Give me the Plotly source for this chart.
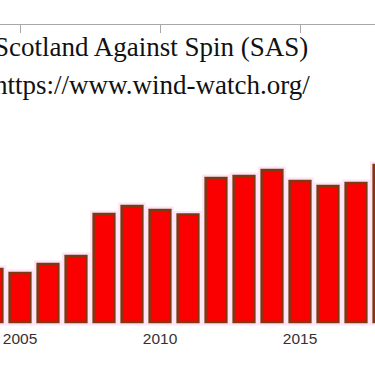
import plotly.graph_objects as go

years = [2004, 2005, 2006, 2007, 2008, 2009, 2010, 2011, 2012, 2013, 2014, 2015, 2016, 2017, 2018]
values = [53, 49, 58, 66, 108, 116, 112, 107.5, 144, 146, 152, 141, 136, 139, 157]
tick_years = [2005, 2010, 2015]
tick_labels = ["2005", "2010", "2015"]
title_lines = ["Scotland Against Spin (SAS)", "https://www.wind-watch.org/"]

W, H = 375, 366
top, bottom = 25, 327
px_per_year = 28.0
x_left = 2005 - 20 / px_per_year
x_right = x_left + W / px_per_year
y_lo, y_hi = -5, 297

fig = go.Figure()
# pink halo beneath bars
fig.add_trace(go.Bar(
    x=years, y=values, width=0.74,
    marker=dict(color="#ffe3f6", line=dict(color="#ffe3f6", width=7)),
    hoverinfo="skip", showlegend=False,
))
fig.add_trace(go.Bar(
    x=years, y=values, width=0.74,
    marker=dict(color="#fb0000", line=dict(color="#7d3a12", width=2.5)),
    showlegend=False,
))
# invisible trace to carry the top axis
fig.add_trace(go.Scatter(x=[x_left], y=[0], xaxis="x2", mode="markers",
                         marker=dict(opacity=0), hoverinfo="skip", showlegend=False))

plot_h = bottom - top
def paper_y(py):
    return (bottom - py) / plot_h

annotations = []
for txt, cy in zip(title_lines, [47, 85]):
    annotations.append(dict(
        text=txt, xref="paper", yref="paper", x=-8 / W, y=paper_y(cy),
        xanchor="left", yanchor="middle", showarrow=False,
        font=dict(family="Liberation Serif, Times New Roman, serif", size=27, color="#111111"),
    ))

fig.update_layout(
    width=W, height=H,
    margin=dict(l=0, r=0, t=top, b=H - bottom, pad=0),
    paper_bgcolor="white", plot_bgcolor="white",
    barmode="overlay",
    xaxis=dict(range=[x_left, x_right], tickvals=tick_years, ticktext=tick_labels,
               showline=False, showgrid=False, zeroline=False, ticks="",
               tickfont=dict(family="Liberation Sans, Arial, sans-serif", size=15.5, color="#333333")),
    xaxis2=dict(range=[x_left, x_right], overlaying="x", side="top", anchor="y",
                showline=True, linecolor="#a8a8a8", linewidth=1,
                ticks="inside", ticklen=8, tickcolor="#a8a8a8", tickwidth=1,
                tickvals=tick_years, showticklabels=False, showgrid=False, zeroline=False),
    yaxis=dict(range=[y_lo, y_hi], visible=False, showgrid=False, zeroline=False),
    annotations=annotations,
)

fig.write_html("out.html", config={"displayModeBar": False},
               post_script="document.body.style.margin='0px';document.body.style.overflow='hidden';")
